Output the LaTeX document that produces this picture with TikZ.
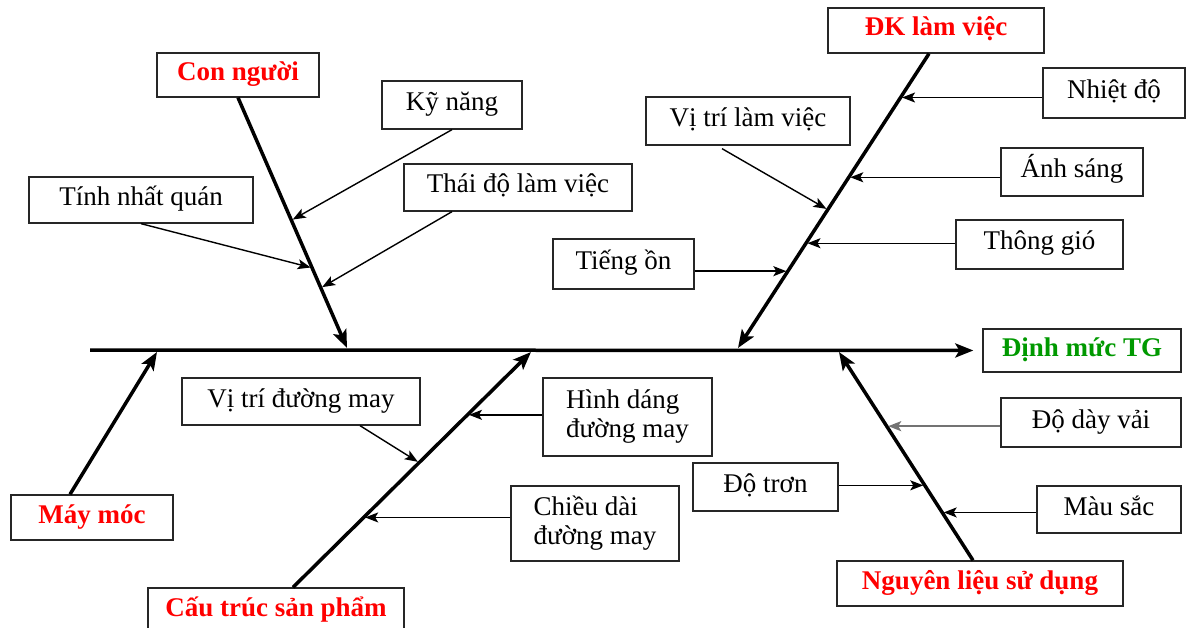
\documentclass[tikz,border=0pt]{standalone}
\usepackage{fontspec}
\setmainfont{Liberation Serif}
\usetikzlibrary{arrows.meta,calc}

\begin{document}
\begin{tikzpicture}[x=1pt,y=-1pt,
    box/.style={draw=black!85, line width=1.3pt, fill=white, inner sep=0pt,
      font=\fontsize{27}{30}\selectfont, text height=18pt, text depth=7pt},
    twobox/.style={draw=black!85, line width=1.3pt, fill=white, inner sep=0pt,
      align=left, font=\fontsize{27}{29}\selectfont},
    head/.style={box, font=\fontsize{27}{30}\selectfont\bfseries, text=red},
    bone/.style={line width=3.5pt, -{Stealth[length=18pt,width=14pt,inset=4pt]}},
    twig/.style={line width=1.4pt, shorten >=1.5pt, -{Stealth[length=13pt,width=10pt,inset=3pt]}}]
    \useasboundingbox (0,0) rectangle (1186,628);

    \node[head, minimum width=162, minimum height=44] (con) at (238,75) {Con người};
    \node[head, minimum width=216, minimum height=45] (dk) at (936,30.5) {ĐK làm việc};
    \node[head, minimum width=162, minimum height=45] (may) at (92,517.5) {Máy móc};
    \node[head, minimum width=256, minimum height=45] (cau) at (276,610.5) {Cấu trúc sản phẩm};
    \node[head, minimum width=286, minimum height=45] (nl) at (980,583.5) {Nguyên liệu sử dụng};
    \node[head, text=green!60!black, minimum width=198, minimum height=43] (dm) at (1082,350.5) {Định mức TG};

    \node[box, minimum width=224, minimum height=46] (tinh) at (141,200) {Tính nhất quán};
    \node[box, minimum width=140, minimum height=48] (ky) at (452,105) {Kỹ năng};
    \node[box, minimum width=228, minimum height=47] (thai) at (518,187.5) {Thái độ làm việc};
    \node[box, minimum width=204, minimum height=48] (vtlv) at (748,121) {Vị trí làm việc};
    \node[box, minimum width=141, minimum height=50] (tieng) at (623.5,264) {Tiếng ồn};
    \node[box, minimum width=142, minimum height=50] (nhiet) at (1114,93) {Nhiệt độ};
    \node[box, minimum width=142, minimum height=48] (anh) at (1072,172) {Ánh sáng};
    \node[box, minimum width=167, minimum height=49] (thong) at (1039.5,244.5) {Thông gió};
    \node[box, minimum width=238, minimum height=47] (vtdm) at (301,401.5) {Vị trí đường may};
    \node[twobox, minimum width=169, minimum height=78] (hinh) at (627.5,417) {Hình dáng\\đường may};
    \node[twobox, minimum width=168, minimum height=75] (chieu) at (595,523.5) {Chiều dài\\đường may};
    \node[box, minimum width=145, minimum height=48] (tron) at (765.5,487) {Độ trơn};
    \node[box, minimum width=180, minimum height=49] (day) at (1091,422.5) {Độ dày vải};
    \node[box, minimum width=144, minimum height=47] (mau) at (1109,509.5) {Màu sắc};

    \coordinate (tail) at (90,350);
    \coordinate (scon) at (con.south);
    \coordinate (sdk) at ($(dk.south)+(-7,0)$);
    \coordinate (smay) at ($(may.north)+(-22,0)$);
    \coordinate (scau) at ($(cau.north)+(17,0)$);
    \coordinate (snl) at ($(nl.north)+(-7,0)$);
    \coordinate (bcon) at (347,348);
    \coordinate (bdk) at (738,348);
    \coordinate (bmay) at (157,352);
    \coordinate (bcau) at (531,352);
    \coordinate (bnl) at (839,352);

    \draw[line width=3.5pt, shorten >=9pt, -{Stealth[length=18pt,width=14pt,inset=4pt]}] (tail) -- (dm.west);
    \draw[bone] (scon) -- (bcon);
    \draw[bone] (sdk) -- (bdk);
    \draw[bone] (smay) -- (bmay);
    \draw[bone] (scau) -- (bcau);
    \draw[bone] (snl) -- (bnl);

    \coordinate (tky) at ($(scon)!0.49!(bcon)$);
    \coordinate (ttinh) at ($(scon)!0.68!(bcon)$);
    \coordinate (tthai) at ($(scon)!0.76!(bcon)$);
    \coordinate (tnhiet) at ($(sdk)!0.149!(bdk)$);
    \coordinate (tanh) at ($(sdk)!0.42!(bdk)$);
    \coordinate (tvtlv) at ($(sdk)!0.53!(bdk)$);
    \coordinate (tthong) at ($(sdk)!0.644!(bdk)$);
    \coordinate (ttieng) at ($(sdk)!0.739!(bdk)$);
    \coordinate (tvtdm) at ($(scau)!0.53!(bcau)$);
    \coordinate (thinh) at ($(scau)!0.733!(bcau)$);
    \coordinate (tchieu) at ($(scau)!0.297!(bcau)$);
    \coordinate (ttron) at ($(snl)!0.36!(bnl)$);
    \coordinate (tday) at ($(snl)!0.644!(bnl)$);
    \coordinate (tmau) at ($(snl)!0.23!(bnl)$);

    \draw[twig] (ky.south) -- (tky);
    \draw[twig] (tinh.south) -- (ttinh);
    \draw[twig] ($(thai.south)+(-66,0)$) -- (tthai);
    \draw[twig] ($(vtlv.south)+(-26,3)$) -- (tvtlv);
    \draw[twig] (tieng.east |- ttieng) -- (ttieng);
    \draw[twig] (nhiet.west |- tnhiet) -- (tnhiet);
    \draw[twig] (anh.west |- tanh) -- (tanh);
    \draw[twig] (thong.west |- tthong) -- (tthong);
    \draw[twig] ($(vtdm.south)+(59,0)$) -- (tvtdm);
    \draw[twig] (hinh.west |- thinh) -- (thinh);
    \draw[twig] (chieu.west |- tchieu) -- (tchieu);
    \draw[twig] (tron.east |- ttron) -- (ttron);
    \draw[twig, draw=black!55, line width=2pt] (day.west |- tday) -- (tday);
    \draw[twig] (mau.west |- tmau) -- (tmau);
\end{tikzpicture}
\end{document}
